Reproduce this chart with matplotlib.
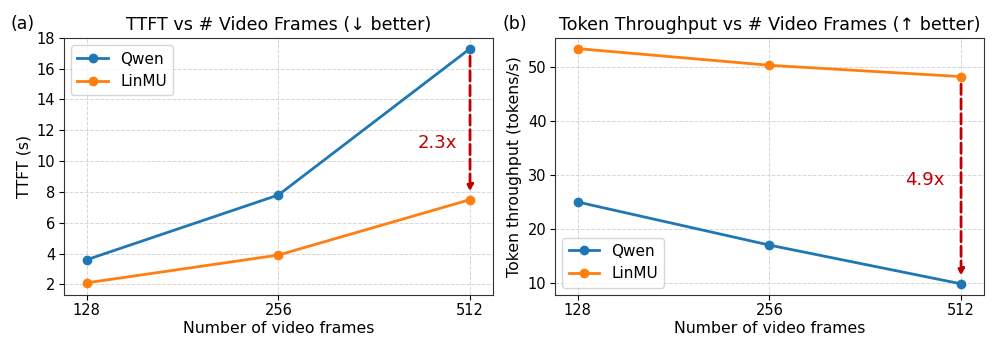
import matplotlib
matplotlib.use('Agg')
import matplotlib.pyplot as plt
import numpy as np

# Data
frames = ['128', '256', '512']
ttft_qwen = [3.6, 7.8, 17.3]
ttft_linmu = [2.1, 3.9, 7.5]
tput_qwen = [25.0, 17.0, 9.8]
tput_linmu = [53.5, 50.4, 48.3]
ttft_ticks = [2, 4, 6, 8, 10, 12, 14, 16, 18]
tput_ticks = [10, 20, 30, 40, 50]

BLUE = '#1f77b4'
ORANGE = '#ff7f0e'
RED = '#c00000'

fig = plt.figure(figsize=(9.96, 3.44), dpi=100)
ax1 = fig.add_axes([0.064, 0.142, 0.431, 0.748])
ax2 = fig.add_axes([0.557, 0.142, 0.431, 0.748])

x = np.arange(len(frames))


def style(ax):
    ax.grid(True, linestyle='--', color='#cccccc', linewidth=0.7, alpha=0.8)
    ax.set_axisbelow(True)
    for s in ax.spines.values():
        s.set_color('#333333')
    ax.set_xticks(x)
    ax.set_xticklabels(frames)
    ax.tick_params(labelsize=10.5, pad=2.5)
    ax.set_xlabel('Number of video frames', fontsize=11.3, labelpad=1.5)
    ax.set_xlim(-0.12, 2.12)


# (a) TTFT
ax1.plot(x, ttft_qwen, '-o', color=BLUE, lw=2, ms=6, label='Qwen')
ax1.plot(x, ttft_linmu, '-o', color=ORANGE, lw=2, ms=6, label='LinMU')
style(ax1)
ax1.set_yticks(ttft_ticks)
ax1.set_ylim(1.3, 18.0)
ax1.set_ylabel('TTFT (s)', fontsize=11.3)
ax1.set_title('TTFT vs # Video Frames (↓ better)', fontsize=12.6)
ax1.legend(loc='upper left', fontsize=11)
ax1.annotate('', xy=(2, ttft_linmu[2] + 0.35), xytext=(2, ttft_qwen[2] - 0.3),
             arrowprops=dict(arrowstyle='-|>', linestyle='--', color=RED, lw=2,
                             mutation_scale=9))
ratio1 = ttft_qwen[2] / ttft_linmu[2]
ax1.text(1.83, 11.2, f'{ratio1:.1f}x', color=RED, fontsize=13, ha='center', va='center')
fig.text(0.011, 0.915, '(a)', fontsize=12.5)

# (b) throughput
ax2.plot(x, tput_qwen, '-o', color=BLUE, lw=2, ms=6, label='Qwen')
ax2.plot(x, tput_linmu, '-o', color=ORANGE, lw=2, ms=6, label='LinMU')
style(ax2)
ax2.set_yticks(tput_ticks)
ax2.set_ylim(7.7, 55.5)
ax2.set_ylabel('Token throughput (tokens/s)', fontsize=11.3)
ax2.set_title('Token Throughput vs # Video Frames (↑ better)', fontsize=12.6)
ax2.legend(loc='lower left', fontsize=11)
ax2.annotate('', xy=(2, tput_qwen[2] + 1.0), xytext=(2, tput_linmu[2] - 0.9),
             arrowprops=dict(arrowstyle='-|>', linestyle='--', color=RED, lw=2,
                             mutation_scale=9))
ratio2 = tput_linmu[2] / tput_qwen[2]
ax2.text(1.81, 29.0, f'{ratio2:.1f}x', color=RED, fontsize=13, ha='center', va='center')
fig.text(0.505, 0.915, '(b)', fontsize=12.5)

fig.savefig('out.png', dpi=100)
